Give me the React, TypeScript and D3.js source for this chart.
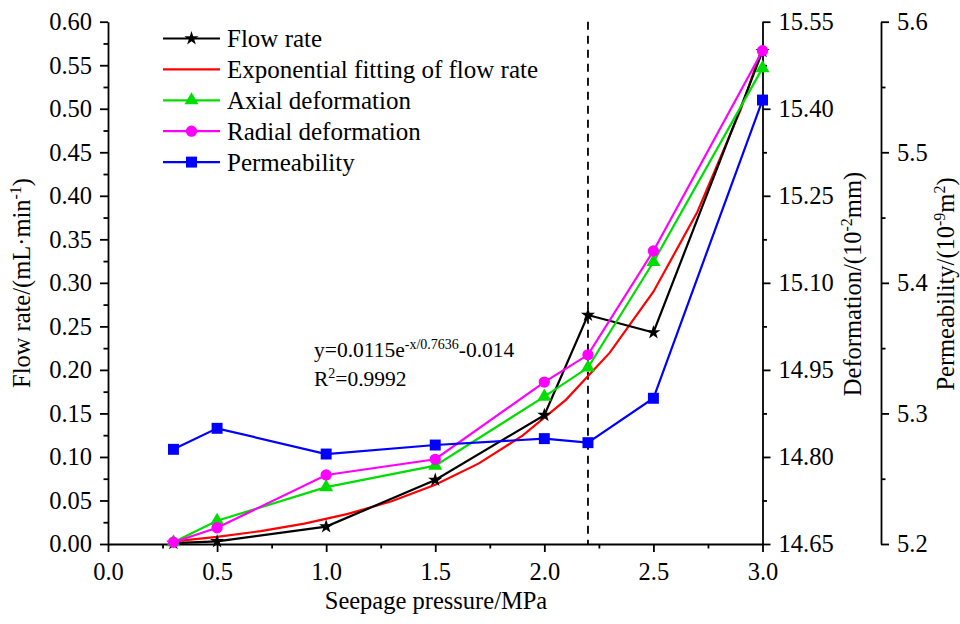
import React, { useEffect, useRef } from "react";
import * as d3 from "d3";

// seepage pressure (MPa) of the test points
const pressure = [0.3, 0.5, 1.0, 1.5, 2.0, 2.2, 2.5, 3.0];
// flow rate, mL/min
const flowRate = [0.001, 0.003, 0.02, 0.0735, 0.148, 0.263, 0.243, 0.566];
// exponential fit curve as drawn
const fitPressure = [0.3, 0.5, 0.7, 0.9, 1.1, 1.3, 1.5, 1.7, 1.9, 2.1, 2.3, 2.5, 2.7, 2.9, 3.0];
const fitFlow = [0.003, 0.0081, 0.0148, 0.0234, 0.0346, 0.0491, 0.068, 0.0926, 0.1245, 0.1659, 0.2198, 0.2898, 0.3807, 0.4989, 0.5707];
// deformation, 10^-2 mm
const axialDef = [14.653, 14.69, 14.748, 14.785, 14.904, 14.954, 15.136, 15.47];
const radialDef = [14.653, 14.678, 14.769, 14.796, 14.929, 14.976, 15.155, 15.5];
// permeability, 10^-9 m^2
const permeability = [5.2725, 5.2886, 5.2689, 5.2758, 5.2807, 5.2776, 5.3116, 5.54];

const dashedAt = 2.2;
const legendNames = [
  "Flow rate",
  "Exponential fitting of flow rate",
  "Axial deformation",
  "Radial deformation",
  "Permeability",
];

const FONT = "Liberation Serif, Times New Roman, serif";

const App = () => {
  const ref = useRef<SVGGElement>(null);

  useEffect(() => {
    const svg = d3.select(ref.current);
    svg.selectAll("*").remove();

    const left = 108, right = 762.5, top = 21.7, bottom = 544;
    const x = d3.scaleLinear().domain([0, 3]).range([left, right]);
    const yFlow = d3.scaleLinear().domain([0, 0.6]).range([bottom, top]);
    const yDef = d3.scaleLinear().domain([14.65, 15.55]).range([bottom, top]);
    const yPerm = d3.scaleLinear().domain([5.2, 5.6]).range([bottom, top]);
    const permX = 881;

    const styleAxis = (g: any) => {
      g.attr("font-family", FONT).attr("font-size", 24.5);
      g.selectAll("path, line").attr("stroke", "#000").attr("stroke-width", 1.8);
      g.selectAll("text").attr("font-family", FONT).attr("font-size", 24.5).attr("fill", "#000");
    };

    // minor ticks
    const minor = (axis: any, vals: number[], tr: string) => {
      svg.append("g").attr("transform", tr)
        .call(axis.tickValues(vals).tickSize(4.5).tickFormat(() => ""))
        .call((g: any) => { g.select(".domain").remove(); styleAxis(g); });
    };
    minor(d3.axisLeft(yFlow), d3.range(0.025, 0.6, 0.05), `translate(${left},0)`);
    minor(d3.axisBottom(x), d3.range(0.25, 3, 0.5), `translate(0,${bottom})`);
    minor(d3.axisRight(yDef), d3.range(14.725, 15.55, 0.15), `translate(${right},0)`);
    minor(d3.axisRight(yPerm), d3.range(5.25, 5.6, 0.1), `translate(${permX},0)`);

    svg.append("g").attr("transform", `translate(${left},0)`)
      .call(d3.axisLeft(yFlow).tickValues(d3.range(0, 0.61, 0.05)).tickFormat(d3.format(".2f")).tickSize(8).tickSizeOuter(0).tickPadding(8))
      .call(styleAxis);
    svg.append("g").attr("transform", `translate(0,${bottom})`)
      .call(d3.axisBottom(x).tickValues(d3.range(0, 3.01, 0.5)).tickFormat(d3.format(".1f")).tickSize(8).tickSizeOuter(0).tickPadding(10.5))
      .call(styleAxis);
    svg.append("g").attr("transform", `translate(${right},0)`)
      .call(d3.axisRight(yDef).tickValues(d3.range(14.65, 15.56, 0.15)).tickFormat(d3.format(".2f")).tickSize(8).tickSizeOuter(0).tickPadding(8))
      .call(styleAxis);
    svg.append("g").attr("transform", `translate(${permX},0)`)
      .call(d3.axisRight(yPerm).tickValues(d3.range(5.2, 5.61, 0.1)).tickFormat(d3.format(".1f")).tickSize(8).tickSizeOuter(0).tickPadding(8))
      .call(styleAxis);

    // dashed line at 2.2 MPa
    svg.append("line")
      .attr("x1", x(dashedAt)).attr("x2", x(dashedAt))
      .attr("y1", top).attr("y2", bottom)
      .attr("stroke", "#000").attr("stroke-width", 1.8).attr("stroke-dasharray", "8,6");

    const series = [
      { name: legendNames[1], xs: fitPressure, ys: fitFlow, y: yFlow, color: "#FF0000", symbol: null, size: 0 },
      { name: legendNames[0], xs: pressure, ys: flowRate, y: yFlow, color: "#000000", symbol: d3.symbolStar, size: 62 },
      { name: legendNames[2], xs: pressure, ys: axialDef, y: yDef, color: "#00DD00", symbol: d3.symbolTriangle, size: 85 },
      { name: legendNames[3], xs: pressure, ys: radialDef, y: yDef, color: "#FF00FF", symbol: d3.symbolCircle, size: 100 },
      { name: legendNames[4], xs: pressure, ys: permeability, y: yPerm, color: "#0000FF", symbol: d3.symbolSquare, size: 120 },
    ];

    series.forEach((s) => {
      const pts = s.xs.map((v, i) => [x(v), s.y(s.ys[i])] as [number, number]);
      svg.append("path")
        .attr("d", d3.line()(pts))
        .attr("fill", "none")
        .attr("stroke", s.color)
        .attr("stroke-width", 2.2);
      if (s.symbol) {
        svg.append("g").selectAll("path")
          .data(pts)
          .enter()
          .append("path")
          .attr("transform", (d) => `translate(${d[0]},${d[1]})`)
          .attr("d", d3.symbol().type(s.symbol).size(s.size)())
          .attr("fill", s.color);
      }
    });

    // legend
    const legend = svg.append("g").attr("font-family", FONT).attr("font-size", 25);
    legendNames.forEach((name, i) => {
      const s = series.find((d) => d.name === name)!;
      const cy = 38.5 + i * 30.9;
      legend.append("line").attr("x1", 163).attr("x2", 220).attr("y1", cy).attr("y2", cy)
        .attr("stroke", s.color).attr("stroke-width", 2.2);
      if (s.symbol) {
        legend.append("path")
          .attr("transform", `translate(191.5,${cy})`)
          .attr("d", d3.symbol().type(s.symbol).size(s.size)())
          .attr("fill", s.color);
      }
      legend.append("text").attr("x", 227).attr("y", cy + 8.5).text(name);
    });
  }, []);

  return (
    <svg width={960} height={624}
      style={{ position: "absolute", left: 0, top: 0, background: "#fff" }}>
      <g ref={ref} />
      <g fontFamily={FONT} fill="#000">
        <text x={314} y={357} fontSize={21.5}>
          y=0.0115e<tspan dy={-8} fontSize={14}>-x/0.7636</tspan><tspan dy={8}>-0.014</tspan>
        </text>
        <text x={314} y={386} fontSize={21.5}>
          R<tspan dy={-8} fontSize={14}>2</tspan><tspan dy={8}>=0.9992</tspan>
        </text>
        <text x={436} y={609} fontSize={24.5} textAnchor="middle">Seepage pressure/MPa</text>
        <text transform="translate(30,283) rotate(-90)" fontSize={24.5} textAnchor="middle">
          Flow rate/(mL·min<tspan dy={-9} fontSize={16}>-1</tspan><tspan dy={9}>)</tspan>
        </text>
        <text transform="translate(861,284) rotate(-90)" fontSize={24.5} textAnchor="middle">
          Deformation/(10<tspan dy={-9} fontSize={16}>-2</tspan><tspan dy={9}>mm)</tspan>
        </text>
        <text transform="translate(954,284) rotate(-90)" fontSize={24.5} textAnchor="middle">
          Permeability/(10<tspan dy={-9} fontSize={16}>-9</tspan><tspan dy={9}>m</tspan><tspan dy={-9} fontSize={16}>2</tspan><tspan dy={9}>)</tspan>
        </text>
      </g>
    </svg>
  );
};

export default App;
